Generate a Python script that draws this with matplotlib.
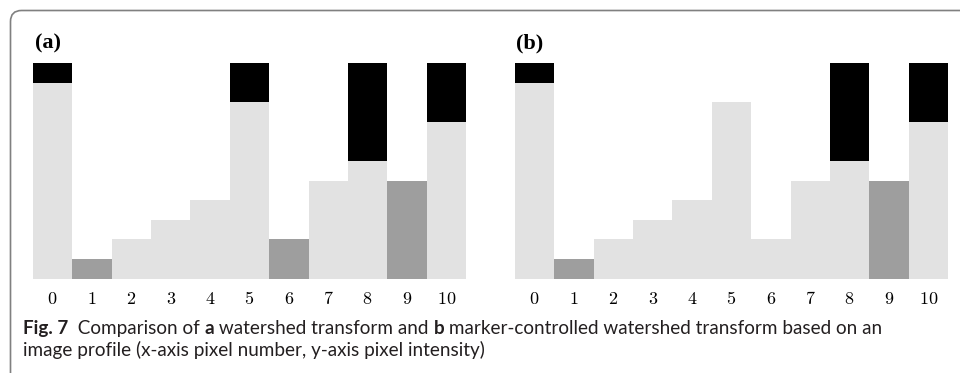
import matplotlib
matplotlib.use("Agg")
import matplotlib.pyplot as plt
from matplotlib.path import Path
from matplotlib.patches import PathPatch
from matplotlib.transforms import IdentityTransform

# Image profile: pixel intensity for pixel numbers 0..10
pixels = list(range(11))
intensity = [10, 1, 2, 3, 4, 9, 2, 5, 6, 5, 8]
flood_level = 11

# (a) plain watershed: every regional minimum is a seed
seeds_a = [1, 6, 9]
flooded_a = [0, 5, 8, 10]
# (b) marker-controlled watershed: only the marked minima are seeds
seeds_b = [1, 9]
flooded_b = [0, 8, 10]

panel_labels = ["(a)", "(b)"]
tick_labels = [str(p) for p in pixels]

caption_line1 = [("Fig. 7", "bold"), ("  Comparison of ", "normal"), ("a", "bold"),
                 (" watershed transform and ", "normal"), ("b", "bold"),
                 (" marker-controlled watershed transform based on an", "normal")]
caption_line2 = "image profile (x-axis pixel number, y-axis pixel intensity)"

LIGHT = "#e2e2e2"
DARK = "#9e9e9e"
WATER = "#000000"

plt.rcParams["mathtext.fontset"] = "cm"

W, H = 960, 373
fig = plt.figure(figsize=(W / 100, H / 100), dpi=100)

def px_axes(x0, x1, ytop, ybot):
    return fig.add_axes([x0 / W, 1 - ybot / H, (x1 - x0) / W, (ybot - ytop) / H])

axes = [px_axes(33, 466, 63, 278.7), px_axes(515, 948, 63, 278.7)]
label_x = [35, 516]

for ax, seeds, flooded, lab, lx in zip(axes, [seeds_a, seeds_b], [flooded_a, flooded_b],
                                       panel_labels, label_x):
    colors = [DARK if p in seeds else LIGHT for p in pixels]
    ax.bar(pixels, intensity, width=1.0, color=colors, linewidth=0)
    for p in flooded:
        ax.bar(p, flood_level - intensity[p], bottom=intensity[p], width=1.0,
               color=WATER, linewidth=0)
    ax.set_xlim(-0.5, 10.5)
    ax.set_ylim(0, flood_level)
    ax.set_xticks(pixels)
    ax.set_xticklabels(["$" + t + "$" for t in tick_labels], fontsize=13)
    ax.tick_params(axis="x", length=0, pad=8)
    ax.set_yticks([])
    for s in ax.spines.values():
        s.set_visible(False)
    fig.text(lx / W, 1 - 48 / H, lab, family="Liberation Serif",
             fontweight="bold", fontsize=16, ha="left", va="baseline")

# Caption, built piece by piece so the bold parts sit inline
renderer = fig.canvas.get_renderer()
cap_font = dict(family="Lato", fontsize=13.6, color="#231f20")
x = 23
y1 = H - 334
for txt, wt in caption_line1:
    t = fig.text(x / W, y1 / H, txt, fontweight=wt, ha="left", va="baseline", **cap_font)
    bb = t.get_window_extent(renderer)
    x = bb.x1
fig.text(23 / W, (H - 356) / H, caption_line2, ha="left", va="baseline", **cap_font)

# Rounded frame, open at the right and bottom edges
r = 11
xl, yt = 10.5, H - 10.5
verts = [(xl, -5), (xl, yt - r), (xl, yt), (xl + r, yt), (W + 5, yt)]
codes = [Path.MOVETO, Path.LINETO, Path.CURVE3, Path.CURVE3, Path.LINETO]
frame = PathPatch(Path(verts, codes), transform=IdentityTransform(), fill=False,
                  edgecolor="#808080", linewidth=1.2)
fig.add_artist(frame)

fig.savefig("out.png", dpi=100)
